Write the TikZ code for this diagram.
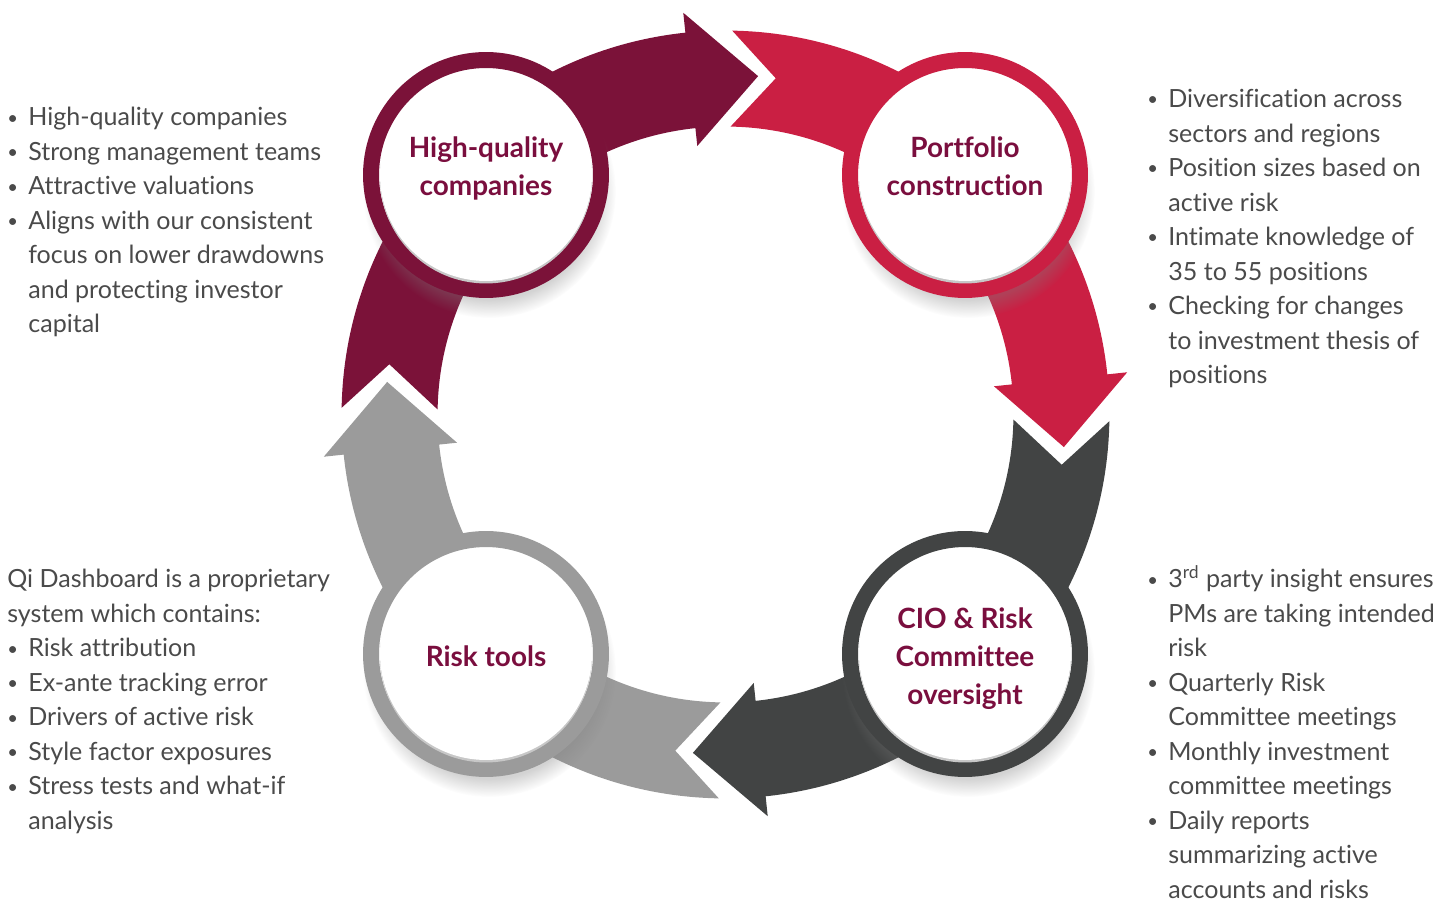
\documentclass[tikz,border=0pt]{standalone}
\usepackage{fontspec}
\setmainfont{Lato}[Ligatures=NoCommon]
\usetikzlibrary{shadows}
\definecolor{hqred}{HTML}{7B1239}
\definecolor{pcred}{HTML}{CA1F43}
\definecolor{ciogrey}{HTML}{424444}
\definecolor{riskgrey}{HTML}{9B9B9B}
\definecolor{labelred}{HTML}{7A0E3E}
\definecolor{bodytext}{HTML}{4A4A4A}
\newcommand{\bul}{\makebox[0.42cm][l]{\raisebox{1pt}{\fontsize{10.5}{0}\selectfont\textbullet}}}
\newcommand{\ind}{\hspace*{0.42cm}}
\begin{document}
\begin{tikzpicture}[x=0.02cm, y=0.02cm]
  \tikzstyle{ring} = [circle, fill=white, line width=0.32cm, minimum size=4.6cm, inner sep=0pt, circular drop shadow={shadow scale=1.1, shadow xshift=0.06cm, shadow yshift=-0.3cm, opacity=0.35}]
  \tikzstyle{ringtext} = [align=center, text=labelred, font=\fontsize{15.9}{21.6}\selectfont\bfseries]
  \tikzstyle{listtext} = [anchor=north west, inner sep=0pt, align=left, text=bodytext, font=\fontsize{14.25}{19.64}\selectfont]

  \useasboundingbox (0,0) rectangle (1453,902);

  % curved arrows round the cycle
  \fill[hqred, shift={(725.5,487.5)}] (179:7.68cm) arc[start angle=179, end angle=96, radius=7.68cm] -- (96:8.08cm) -- (84.5:6.8cm) -- (96:5.4cm) -- (96:5.76cm) arc[start angle=96, end angle=179, radius=5.76cm] -- (171.5:6.8cm) -- cycle;
  \fill[pcred, shift={(725.5,487.5)}, rotate=-90] (179:7.68cm) arc[start angle=179, end angle=96, radius=7.68cm] -- (96:8.08cm) -- (84.5:6.8cm) -- (96:5.4cm) -- (96:5.76cm) arc[start angle=96, end angle=179, radius=5.76cm] -- (171.5:6.8cm) -- cycle;
  \fill[ciogrey, shift={(725.5,487.5)}, rotate=-180] (179:7.68cm) arc[start angle=179, end angle=96, radius=7.68cm] -- (96:8.08cm) -- (84.5:6.8cm) -- (96:5.4cm) -- (96:5.76cm) arc[start angle=96, end angle=179, radius=5.76cm] -- (171.5:6.8cm) -- cycle;
  \fill[riskgrey, shift={(725.5,487.5)}, rotate=-270] (179:7.68cm) arc[start angle=179, end angle=96, radius=7.68cm] -- (96:8.08cm) -- (84.5:6.8cm) -- (96:5.4cm) -- (96:5.76cm) arc[start angle=96, end angle=179, radius=5.76cm] -- (171.5:6.8cm) -- cycle;

  % rings
  \node[ring, draw=hqred] (hq) at (486,727) {};
  \node[ring, draw=pcred] (pc) at (965,727) {};
  \node[ring, draw=ciogrey] (cio) at (965,248) {};
  \node[ring, draw=riskgrey] (risk) at (486,248) {};
  \fill[black!22] ([yshift=-0.05cm]hq.center) circle[radius=2.12cm];
  \fill[white] (hq.center) circle[radius=2.12cm];
  \fill[black!22] ([yshift=-0.05cm]pc.center) circle[radius=2.12cm];
  \fill[white] (pc.center) circle[radius=2.12cm];
  \fill[black!22] ([yshift=-0.05cm]cio.center) circle[radius=2.12cm];
  \fill[white] (cio.center) circle[radius=2.12cm];
  \fill[black!22] ([yshift=-0.05cm]risk.center) circle[radius=2.12cm];
  \fill[white] (risk.center) circle[radius=2.12cm];

  \node[ringtext] (hqtext) at ([yshift=0.13cm]hq.center) {High-quality\\companies};
  \node[ringtext] (pctext) at ([yshift=0.17cm]pc.center) {Portfolio\\construction};
  \node[ringtext] (ciotext) at ([yshift=-0.09cm]cio.center) {CIO \& Risk\\Committee\\oversight};
  \node[ringtext] (risktext) at ([yshift=-0.04cm]risk.center) {Risk tools};

  % bullet lists
  \node[listtext] (hqlist) at (7,795) {\bul High-quality companies\\\bul Strong management teams\\\bul Attractive valuations\\\bul Aligns with our consistent\\\ind focus on lower drawdowns\\\ind and protecting investor\\\ind capital};
  \node[listtext] (pclist) at (1147,813) {\bul Diversification across\\\ind sectors and regions\\\bul Position sizes based on\\\ind active risk\\\bul Intimate knowledge of\\\ind 35 to 55 positions\\\bul Checking for changes\\\ind to investment thesis of\\\ind positions};
  \node[listtext] (risklist) at (7,333) {Qi Dashboard is a proprietary\\system which contains:\\\bul Risk attribution\\\bul Ex-ante tracking error\\\bul Drivers of active risk\\\bul Style factor exposures\\\bul Stress tests and what-if\\\ind analysis};
  \node[listtext] (ciolist) at (1147,333) {\bul 3\smash{\textsuperscript{rd}} party insight ensures\\\ind PMs are taking intended\\\ind risk\\\bul Quarterly Risk\\\ind Committee meetings\\\bul Monthly investment\\\ind committee meetings\\\bul Daily reports\\\ind summarizing active\\\ind accounts and risks};
\end{tikzpicture}
\end{document}
